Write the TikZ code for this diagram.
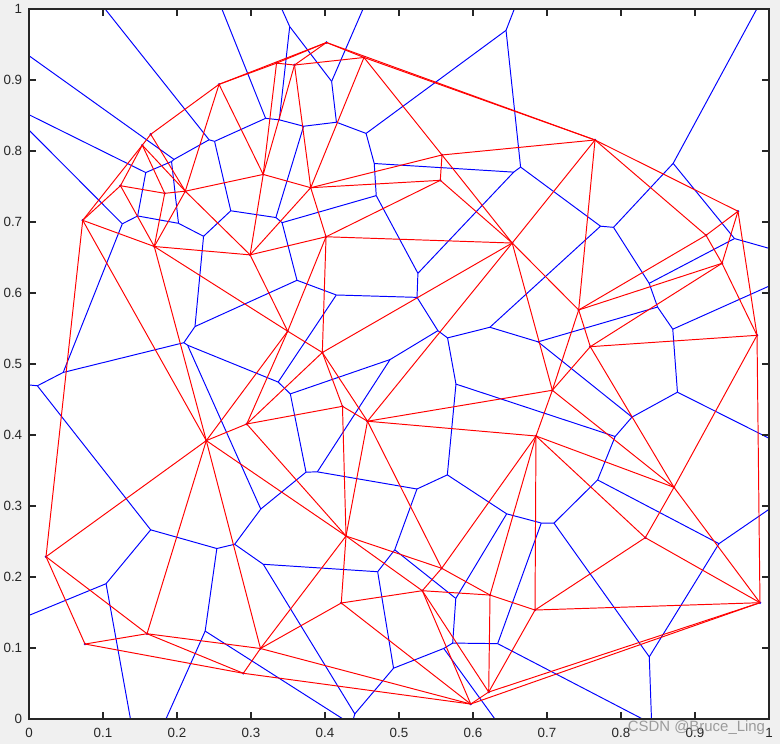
\documentclass[tikz,border=0pt]{standalone}
\usepackage{fontspec}
\setmainfont{Liberation Sans}
\usepackage{tikz}
\definecolor{vorblue}{HTML}{0000FF}
\definecolor{delred}{HTML}{FF0000}
\definecolor{axgray}{HTML}{262626}
\definecolor{figgray}{HTML}{F0F0F0}
\tikzset{
  voredge/.style={draw=vorblue, line width=0.55pt},
  deledge/.style={draw=delred, line width=0.55pt},
  axisline/.style={draw=axgray, line width=0.6pt},
  ticklabel/.style={font=\fontsize{7.6}{9}\selectfont, text=axgray, inner sep=0pt},
  watermark/.style={font=\fontsize{8.5}{10}\selectfont, text=black!45, opacity=0.85, inner sep=0pt},
}
\newcommand\getsite[3]{\edef#2{\csname sx#1\endcsname}\edef#3{\csname sy#1\endcsname}}
\newcommand\circcenter[4]{%
  \getsite{#2}\vax\vay\getsite{#3}\vbx\vby\getsite{#4}\vcx\vcy
  \edef\vd{\fpeval{2*((\vax)*((\vby)-(\vcy))+(\vbx)*((\vcy)-(\vay))+(\vcx)*((\vay)-(\vby)))}}%
  \edef\vux{\fpeval{(((\vax)^2+(\vay)^2)*((\vby)-(\vcy))+((\vbx)^2+(\vby)^2)*((\vcy)-(\vay))+((\vcx)^2+(\vcy)^2)*((\vay)-(\vby)))/(\vd)}}%
  \edef\vuy{\fpeval{(((\vax)^2+(\vay)^2)*((\vcx)-(\vbx))+((\vbx)^2+(\vby)^2)*((\vax)-(\vcx))+((\vcx)^2+(\vcy)^2)*((\vbx)-(\vax)))/(\vd)}}%
  \edef\vsc{\fpeval{max(1,abs((\vux)-0.5)/15,abs((\vuy)-0.5)/15)}}%
  \edef\vux{\fpeval{round(0.5+((\vux)-0.5)/(\vsc),5)}}%
  \edef\vuy{\fpeval{round(0.5+((\vuy)-0.5)/(\vsc),5)}}%
  \coordinate (#1) at (\vux,\vuy);}
\newcommand\vray[4]{%
  \getsite{#2}\vax\vay\getsite{#3}\vbx\vby\getsite{#4}\vcx\vcy
  \edef\vnx{\fpeval{(\vay)-(\vby)}}%
  \edef\vny{\fpeval{(\vbx)-(\vax)}}%
  \edef\vsg{\fpeval{((\vnx)*((\vcx)-(\vax))+(\vny)*((\vcy)-(\vay)))>0 ? -1 : 1}}%
  \edef\vex{\fpeval{round(3*(\vsg)*(\vnx)/sqrt((\vnx)^2+(\vny)^2),5)}}%
  \edef\vey{\fpeval{round(3*(\vsg)*(\vny)/sqrt((\vnx)^2+(\vny)^2),5)}}%
  \draw[voredge] (t#1) -- ++(\vex,\vey);}

\begin{document}
\begin{tikzpicture}[x=14.8cm, y=14.2cm]
  \useasboundingbox[fill=figgray] (-0.03919,-0.03521) rectangle (1.01486,1.01268);
  \fill[white] (0,0) rectangle (1,1);
  \foreach \n/\x/\y in {1/0.4020/0.9528, 2/0.4527/0.9317, 3/0.2568/0.8939, 4/0.3345/0.9237,
      5/0.3588/0.9211, 6/0.1645/0.8235, 7/0.1531/0.8082, 8/0.1236/0.7511, 9/0.1834/0.7404,
      10/0.2112/0.7434, 11/0.0726/0.7024, 12/0.1693/0.6655, 13/0.3165/0.7670, 14/0.2988/0.6537,
      15/0.3807/0.7483, 16/0.4014/0.6792, 17/0.5581/0.7944, 18/0.5558/0.7587, 19/0.7649/0.8155,
      20/0.6530/0.6704, 21/0.9581/0.7151, 22/0.9365/0.6418, 23/0.9149/0.6813, 24/0.7428/0.5761,
      25/0.7585/0.5244, 26/0.9838/0.5404, 27/0.7072/0.4630, 28/0.6851/0.3986, 29/0.8716/0.3263,
      30/0.3496/0.5462, 31/0.3964/0.5162, 32/0.4236/0.4404, 33/0.4574/0.4194, 34/0.2396/0.3921,
      35/0.2942/0.4155, 36/0.0230/0.2286, 37/0.0757/0.1056, 38/0.1595/0.1201, 39/0.2896/0.0644,
      40/0.3128/0.0993, 41/0.4284/0.2577, 42/0.5577/0.2123, 43/0.5315/0.1807, 44/0.6230/0.1746,
      45/0.4220/0.1634, 46/0.5969/0.0211, 47/0.6212/0.0380, 48/0.8328/0.2554, 49/0.6838/0.1535,
      50/0.9878/0.1638} {
    \expandafter\xdef\csname sx\n\endcsname{\x}
    \expandafter\xdef\csname sy\n\endcsname{\y}
    \coordinate (s\n) at (\x,\y);
  }
  \foreach \n/\a/\b/\c in {1/1/3/4, 2/1/4/5, 3/1/2/5, 4/1/2/19, 5/2/5/15, 6/2/15/17, 7/2/17/19,
      8/3/4/13, 9/4/5/13, 10/5/13/15, 11/3/6/10, 12/3/10/13, 13/6/7/10, 14/7/9/10, 15/7/8/9,
      16/7/8/11, 17/8/11/12, 18/8/9/12, 19/9/10/12, 20/10/12/14, 21/10/13/14, 22/13/14/15,
      23/14/15/16, 24/15/16/18, 25/15/17/18, 26/17/18/20, 27/16/18/20, 28/17/19/20, 29/12/14/30,
      30/14/16/30, 31/16/30/31, 32/16/20/31, 33/11/12/34, 34/12/30/34, 35/11/34/36, 36/20/31/33,
      37/19/20/24, 38/19/23/24, 39/19/21/23, 40/21/22/23, 41/22/23/24, 42/21/22/26, 43/22/24/25,
      44/22/25/26, 45/20/24/27, 46/24/25/27, 47/20/27/33, 48/25/26/29, 49/25/27/29, 50/27/28/29,
      51/27/28/33, 52/28/29/48, 53/29/48/50, 54/26/29/50, 55/48/49/50, 56/28/48/49, 57/28/44/49,
      58/44/47/49, 59/47/49/50, 60/46/47/50, 61/43/46/47, 62/43/44/47, 63/42/43/44, 64/28/42/44,
      65/28/33/42, 66/33/41/42, 67/41/42/43, 68/41/43/45, 69/43/45/46, 70/40/45/46, 71/40/41/45,
      72/39/40/46, 73/38/39/40, 74/37/38/39, 75/36/37/38, 76/34/36/38, 77/34/38/40, 78/34/40/41,
      79/34/35/41, 80/32/35/41, 81/32/33/41, 82/31/32/33, 83/31/32/35, 84/30/31/35, 85/30/34/35}
    {\circcenter{t\n}{\a}{\b}{\c}}
  \begin{scope}
    \clip (0,0) rectangle (1,1);
    \foreach \u/\v in {3/4, 1/2, 2/3, 3/5, 5/6, 6/7, 4/7, 1/8, 11/12, 8/12, 2/9, 8/9, 9/10, 5/10,
        11/13, 15/16, 14/15, 13/14, 15/18, 16/17, 17/18, 14/19, 18/19, 19/20, 12/21, 20/21, 17/33,
        33/35, 20/29, 29/34, 33/34, 21/22, 10/22, 22/23, 23/30, 29/30, 23/24, 6/25, 24/25, 24/27,
        27/32, 30/31, 31/32, 25/26, 7/28, 26/28, 26/27, 28/37, 38/39, 37/38, 37/45, 45/47, 32/36,
        36/47, 40/42, 39/40, 40/41, 41/43, 43/44, 42/44, 38/41, 43/46, 45/46, 44/48, 46/49, 48/49,
        48/54, 50/51, 49/50, 47/51, 50/52, 51/65, 64/65, 57/64, 52/56, 56/57, 52/53, 53/54, 31/84,
        34/85, 84/85, 82/83, 36/82, 83/84, 81/82, 80/83, 80/81, 66/81, 65/66, 79/85, 35/76, 76/77,
        77/78, 78/79, 79/80, 75/76, 74/75, 73/74, 73/77, 72/73, 71/78, 70/71, 70/72, 66/67, 67/68,
        68/71, 63/67, 63/64, 62/63, 68/69, 61/69, 61/62, 58/62, 57/58, 69/70, 60/61, 58/59, 59/60,
        55/56, 53/55, 55/59}
      \draw[voredge] (t\u) -- (t\v);
    \foreach \n/\a/\b/\c in {4/1/19/2, 1/1/3/4, 11/3/6/10, 13/6/7/10, 16/7/11/8, 35/11/36/34,
        75/36/37/38, 74/37/39/38, 72/39/46/40, 60/46/50/47, 54/26/50/29, 42/21/26/22, 39/19/21/23}
      {\vray{\n}{\a}{\b}{\c}}
  \end{scope}
  \foreach \n in {1,...,50}
    \fill[vorblue] (s\n) circle[radius=0.75pt];
  \foreach \a/\b in {1/2, 1/19, 1/3, 1/4, 1/5, 2/5, 2/15, 2/17, 2/19, 3/4, 3/6, 3/10, 3/13, 4/5,
      4/13, 5/13, 5/15, 6/7, 6/10, 7/8, 7/9, 7/10, 7/11, 8/9, 8/11, 8/12, 9/10, 9/12, 10/12, 10/13,
      10/14, 11/12, 11/34, 11/36, 12/14, 12/30, 12/34, 13/14, 13/15, 14/15, 14/16, 14/30, 15/16,
      15/17, 15/18, 16/18, 16/20, 16/30, 16/31, 17/18, 17/19, 17/20, 18/20, 19/20, 19/21, 19/23,
      19/24, 20/24, 20/27, 20/31, 20/33, 21/22, 21/23, 21/26, 22/23, 22/24, 22/25, 22/26, 23/24,
      24/25, 24/27, 25/26, 25/27, 25/29, 26/29, 26/50, 27/28, 27/29, 27/33, 28/29, 28/33, 28/42,
      28/44, 28/48, 28/49, 29/48, 29/50, 30/31, 30/34, 30/35, 31/32, 31/33, 31/35, 32/33, 32/35,
      32/41, 33/41, 33/42, 34/35, 34/36, 34/38, 34/40, 34/41, 35/41, 36/37, 36/38, 37/38, 37/39,
      38/39, 38/40, 39/40, 39/46, 40/41, 40/45, 40/46, 41/42, 41/43, 41/45, 42/43, 42/44, 43/44,
      43/45, 43/46, 43/47, 44/47, 44/49, 45/46, 46/47, 46/50, 47/49, 47/50, 48/49, 48/50, 49/50}
    \draw[deledge] (s\a) -- (s\b);
  \draw[axisline] (0,0) rectangle (1,1);
  \foreach \t [count=\i] in {0,0.1,0.2,0.3,0.4,0.5,0.6,0.7,0.8,0.9,1} {
    \draw[axisline] (\t,0) -- ++(0,0.14cm) (\t,1) -- ++(0,-0.14cm)
      (0,\t) -- ++(0.14cm,0) (1,\t) -- ++(-0.14cm,0);
    \node[ticklabel, anchor=north] (xl\i) at ([yshift=-0.18cm]\t,0) {\t};
    \node[ticklabel, anchor=east] (yl\i) at ([xshift=-0.13cm]0,\t) {\t};
  }
  \node[watermark, anchor=base] (wm) at (0.902,-0.0169) {CSDN @Bruce\_Ling};
\end{tikzpicture}
\end{document}
